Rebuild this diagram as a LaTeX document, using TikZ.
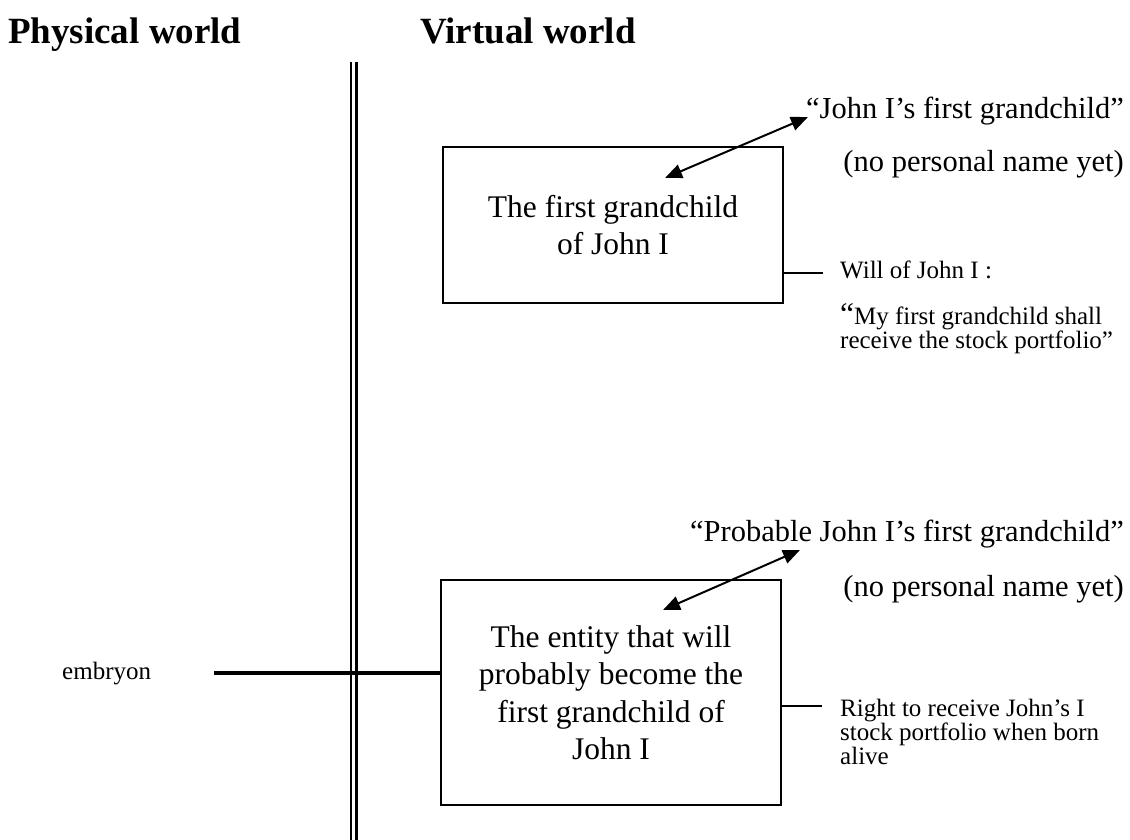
\documentclass[tikz,border=0pt]{standalone}
\usepackage{fontspec}
\setmainfont{Liberation Serif}
\usetikzlibrary{arrows.meta}
\newcommand{\bigsz}{\fontsize{31.5}{37.5}\selectfont}
\newcommand{\labsz}{\fontsize{30.5}{36}\selectfont}
\newcommand{\smallsz}{\fontsize{25}{25.5}\selectfont}
\newcommand{\titlesz}{\fontsize{37}{40}\selectfont\bfseries}
\begin{document}
\begin{tikzpicture}[x=1pt,y=1pt,
		box/.style={draw,line width=2.2pt,minimum width=340pt,inner sep=0pt,align=center,font=\bigsz},
		txt/.style={inner sep=0pt,anchor=base west},
		link/.style={{Triangle[length=17pt,width=14pt]}-{Triangle[length=17pt,width=14pt]},line width=2pt},
		tie/.style={line width=1.6pt}]
		\useasboundingbox (0,0) rectangle (1130,840);
		% titles and the border between the two worlds
		\node[txt,font=\titlesz] (phys) at (8,796) {Physical world};
		\node[txt,font=\titlesz] (virt) at (420,796) {Virtual world};
		\draw[line width=2pt] (350.5,778)--(350.5,0);
		\draw[line width=3pt] (356.5,778)--(356.5,0);
		% the first grandchild
		\node[box,minimum height=156pt] (grand) at (613,615) {The first grandchild\\of John I};
		\node[txt,anchor=base east,font=\labsz] (namea) at (1124,721) {“John I’s first grandchild”};
		\node[txt,anchor=base east,font=\labsz] (nonea) at (1124,668) {(no personal name yet)};
		\coordinate (ga) at (665,662);
		\coordinate (gb) at (808,723);
		\draw[link] (ga)--(gb);
		\coordinate (wa) at (823,567);
		\draw[tie] (wa -| grand.east)--(wa);
		\node[txt,font=\smallsz] (will) at (840,561) {Will of John I :};
		\node[txt,font=\smallsz] (willa) at (840,515) {{\bigsz “}My first grandchild shall};
		\node[txt,font=\smallsz] (willb) at (840,491) {receive the stock portfolio”};
		% the probable grandchild
		\node[box,minimum height=225pt] (entity) at (611,147.5) {The entity that will\\probably become the\\first grandchild of\\John I};
		\node[txt,anchor=base east,font=\labsz] (nameb) at (1124,298) {“Probable John I’s first grandchild”};
		\node[txt,anchor=base east,font=\labsz] (noneb) at (1124,243) {(no personal name yet)};
		\coordinate (ea) at (663,230);
		\coordinate (eb) at (800,290);
		\draw[link] (ea)--(eb);
		\node[txt,font=\smallsz] (embryon) at (62,160) {embryon};
		\coordinate (e0) at (214,167);
		\draw[line width=4pt] (e0)--(e0 -| entity.west);
		\coordinate (ra) at (822,134);
		\draw[tie] (ra -| entity.east)--(ra);
		\node[txt,font=\smallsz] (righta) at (840,123) {Right to receive John’s I};
		\node[txt,font=\smallsz] (rightb) at (840,99) {stock portfolio when born};
		\node[txt,font=\smallsz] (rightc) at (840,75) {alive};
\end{tikzpicture}
\end{document}
